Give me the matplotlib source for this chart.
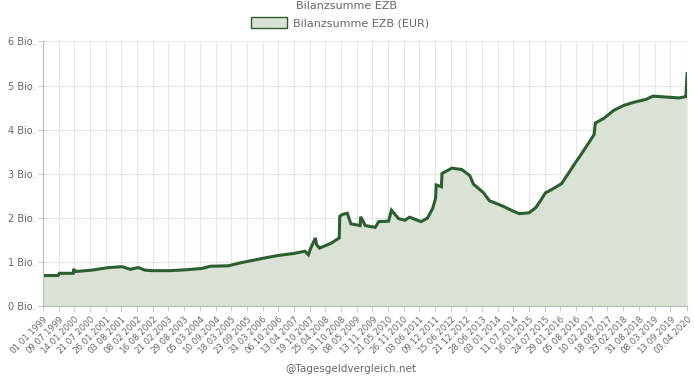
import matplotlib
matplotlib.use("Agg")
import matplotlib.pyplot as plt
import matplotlib.patches as mpatches
import numpy as np

# Bilanzsumme EZB in Bio. EUR
dates = [
    "1999-01-01", "1999-07-02", "1999-07-16", "1999-12-31", "2000-01-07", "2000-01-21",
    "2000-08-04", "2001-03-02", "2001-08-10", "2001-11-16", "2002-02-22", "2002-05-17",
    "2002-08-16", "2003-03-07", "2003-09-19", "2004-04-02", "2004-07-09", "2005-02-11",
    "2005-07-15", "2006-03-10", "2006-09-22", "2007-04-13", "2007-08-24", "2007-10-05",
    "2007-10-26", "2007-12-28", "2008-01-11", "2008-02-15", "2008-07-04", "2008-10-10",
    "2008-10-17", "2008-11-14", "2009-01-16", "2009-02-27", "2009-06-19", "2009-06-26",
    "2009-08-21", "2009-12-18", "2010-01-29", "2010-05-28", "2010-07-02", "2010-09-24",
    "2010-12-10", "2011-02-04", "2011-06-24", "2011-09-09", "2011-11-11", "2011-12-16",
    "2011-12-23", "2012-02-24", "2012-03-02", "2012-06-29", "2012-10-26", "2013-02-01",
    "2013-03-15", "2013-07-12", "2013-09-27", "2014-03-07", "2014-07-04", "2014-09-19",
    "2015-01-16", "2015-04-03", "2015-05-29", "2015-07-31", "2015-10-09", "2016-02-12",
    "2016-04-29", "2016-07-15", "2016-10-07", "2016-12-23", "2017-03-10", "2017-03-24",
    "2017-07-07", "2017-11-03", "2018-03-02", "2018-06-29", "2018-11-30", "2019-02-15",
    "2019-07-26", "2019-12-27", "2020-03-20", "2020-03-27", "2020-04-03",
]
values = [
    0.70, 0.70, 0.75, 0.75, 0.85, 0.79,
    0.82, 0.88, 0.90, 0.84, 0.88, 0.82,
    0.81, 0.81, 0.83, 0.86, 0.91, 0.92,
    0.99, 1.08, 1.15, 1.20, 1.25, 1.17,
    1.29, 1.55, 1.40, 1.32, 1.43, 1.55,
    2.04, 2.08, 2.11, 1.87, 1.83, 2.03,
    1.83, 1.79, 1.92, 1.93, 2.18, 1.99,
    1.95, 2.02, 1.92, 2.00, 2.22, 2.45,
    2.75, 2.71, 3.01, 3.13, 3.10, 2.96,
    2.77, 2.58, 2.39, 2.27, 2.16, 2.10,
    2.12, 2.23, 2.38, 2.57, 2.64, 2.78,
    3.00, 3.22, 3.45, 3.67, 3.89, 4.15,
    4.26, 4.44, 4.55, 4.62, 4.69, 4.76,
    4.74, 4.72, 4.75, 5.00, 5.27,
]

tick_labels = [
    "01.01.1999", "09.07.1999", "14.01.2000", "21.07.2000", "26.01.2001", "03.08.2001",
    "08.02.2002", "16.08.2002", "21.02.2003", "29.08.2003", "05.03.2004", "10.09.2004",
    "18.03.2005", "23.09.2005", "31.03.2006", "06.10.2006", "13.04.2007", "19.10.2007",
    "25.04.2008", "31.10.2008", "08.05.2009", "13.11.2009", "21.05.2010", "26.11.2010",
    "03.06.2011", "09.12.2011", "15.06.2012", "21.12.2012", "28.06.2013", "03.01.2014",
    "11.07.2014", "16.01.2015", "24.07.2015", "29.01.2016", "05.08.2016", "10.02.2017",
    "18.08.2017", "23.02.2018", "31.08.2018", "08.03.2019", "13.09.2019", "03.04.2020",
]
y_ticks = [0, 1, 2, 3, 4, 5, 6]

line_color = "#2b5e30"
fill_color = "#d9e2d5"
grid_color = "#e6e6e6"
text_color = "#666666"

x = np.array(dates, dtype="datetime64[D]")
tick_pos = np.array([f"{d[6:]}-{d[3:5]}-{d[:2]}" for d in tick_labels], dtype="datetime64[D]")

fig = plt.figure(figsize=(6.94, 3.76), dpi=100)
ax = fig.add_axes([0.062, 0.185, 0.928, 0.705])

ax.fill_between(x, values, 0, color=fill_color, linewidth=0)
ax.plot(x, values, color=line_color, linewidth=2.2, solid_joinstyle="miter")

ax.set_xlim(x[0], x[-1])
ax.set_ylim(0, 6)

ax.set_yticks(y_ticks)
ax.set_yticklabels([f"{v} Bio." for v in y_ticks], fontsize=7, color=text_color)
ax.set_xticks(tick_pos)
ax.set_xticklabels(tick_labels, fontsize=6.2, color=text_color,
                   rotation=45, ha="right", va="top", rotation_mode="anchor")

ax.grid(True, color=grid_color, linewidth=0.8)
ax.set_axisbelow(True)
ax.tick_params(axis="both", length=3.5, color="#cccccc", pad=2)
for side in ["top", "right"]:
    ax.spines[side].set_visible(False)
for side in ["left", "bottom"]:
    ax.spines[side].set_color("#bbbbbb")

fig.text(0.5, 0.998, "Bilanzsumme EZB", ha="center", va="top",
         fontsize=8, color=text_color)

handle = mpatches.Patch(facecolor=fill_color, edgecolor=line_color, linewidth=1)
fig.legend([handle], ["Bilanzsumme EZB (EUR)"], loc="center", bbox_to_anchor=(0.49, 0.94),
           frameon=False, fontsize=8, labelcolor=text_color,
           handlelength=3.2, handleheight=1.1, handletextpad=0.5)

fig.text(0.505, 0.004, "@Tagesgeldvergleich.net", ha="center", va="bottom",
         fontsize=7.5, color=text_color)

fig.savefig("out.png", dpi=100)
